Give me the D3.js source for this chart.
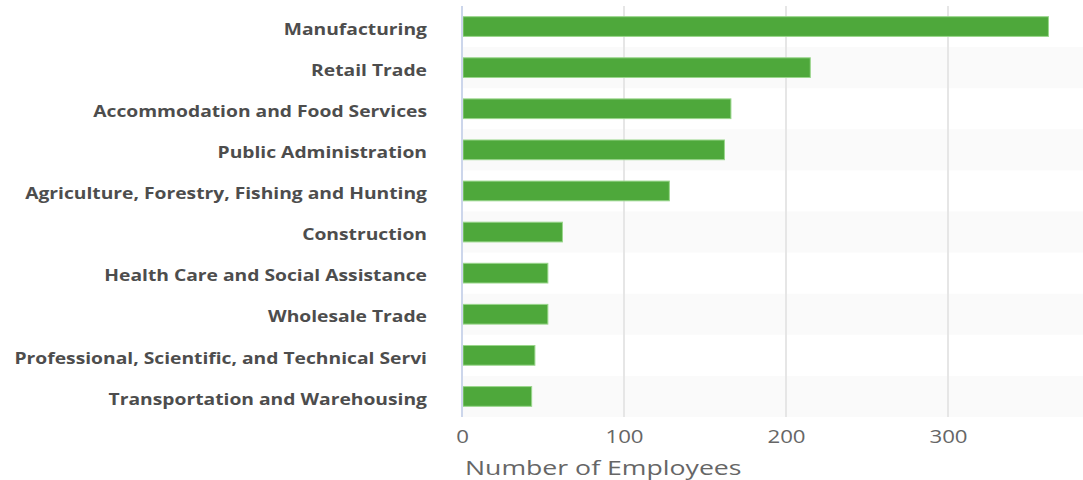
<!DOCTYPE html>
<html>
<head>
<meta charset="utf-8">
<script src="https://cdn.jsdelivr.net/npm/d3@7"></script>
<style>
  html, body { margin: 0; padding: 0; background: #ffffff; }
  svg { display: block; }
</style>
</head>
<body>
<svg id="chart" width="1083" height="480"></svg>
<script>
// Employees by industry sector
const industries = [
  "Manufacturing",
  "Retail Trade",
  "Accommodation and Food Services",
  "Public Administration",
  "Agriculture, Forestry, Fishing and Hunting",
  "Construction",
  "Health Care and Social Assistance",
  "Wholesale Trade",
  "Professional, Scientific, and Technical Servi",
  "Transportation and Warehousing"
];
const employees = [362, 215, 166, 162, 128, 62, 53, 53, 45, 43];
const xTicks = [0, 100, 200, 300];
const xTitle = "Number of Employees";

const svg = d3.select("#chart");
const plot = { left: 462, right: 1083, top: 6, bottom: 417 };
const FONT = "'Open Sans', sans-serif";

const x = d3.scaleLinear()
  .domain([0, (plot.right - plot.left) / 1.62])
  .range([plot.left, plot.right]);

const y = d3.scaleBand()
  .domain(industries)
  .range([plot.top, plot.bottom])
  .paddingInner(0.52)
  .paddingOuter(0.26);

const step = y.step();
const bandTop = d => y(d) - y.paddingInner() * step / 2;

// alternating row shading
svg.append("g")
  .selectAll("rect")
  .data(industries.filter((d, i) => i % 2 === 1))
  .join("rect")
  .attr("x", plot.left)
  .attr("y", d => bandTop(d))
  .attr("width", plot.right - plot.left)
  .attr("height", step)
  .attr("fill", "#fafafa");

// vertical grid lines
svg.append("g")
  .selectAll("line")
  .data(xTicks.filter(t => t > 0))
  .join("line")
  .attr("x1", d => x(d)).attr("x2", d => x(d))
  .attr("y1", plot.top).attr("y2", plot.bottom)
  .attr("stroke", "#e6e6e6")
  .attr("stroke-width", 2);

// bars
svg.append("g")
  .selectAll("rect")
  .data(industries)
  .join("rect")
  .attr("x", x(0) + 1)
  .attr("y", d => y(d))
  .attr("width", (d, i) => x(employees[i]) - x(0) - 1)
  .attr("height", y.bandwidth())
  .attr("fill", "#4ea83b")
  .attr("stroke", "#9ad68c")
  .attr("stroke-width", 1);

// category axis
const yAxis = svg.append("g")
  .attr("transform", `translate(${plot.left},0)`)
  .call(d3.axisLeft(y).tickSize(0));
yAxis.select(".domain")
  .attr("stroke", "#ccd6eb")
  .attr("stroke-width", 2)
  .attr("d", `M0,${plot.top}V${plot.bottom}`);
yAxis.selectAll("text")
  .attr("x", 0)
  .attr("dy", "0.5em")
  .attr("transform", "translate(-35,0) scale(1.175,1)")
  .attr("font-family", FONT)
  .attr("font-size", 16.4)
  .attr("font-weight", "bold")
  .attr("fill", "#4d4d4d");

// value axis
const xAxis = svg.append("g")
  .attr("transform", `translate(0,${plot.bottom})`)
  .call(d3.axisBottom(x).tickValues(xTicks).tickSize(0).tickPadding(0));
xAxis.select(".domain").remove();
xAxis.selectAll("text")
  .attr("y", 0)
  .attr("dy", 0)
  .attr("transform", "translate(0,26) scale(1.25,1)")
  .attr("font-family", FONT)
  .attr("font-size", 17.8)
  .attr("fill", "#666666");

svg.append("text")
  .attr("transform", `translate(${x(0) + 3},475) scale(1.3,1)`)
  .attr("font-family", FONT)
  .attr("font-size", 20.5)
  .attr("fill", "#666666")
  .text(xTitle);
</script>
</body>
</html>
